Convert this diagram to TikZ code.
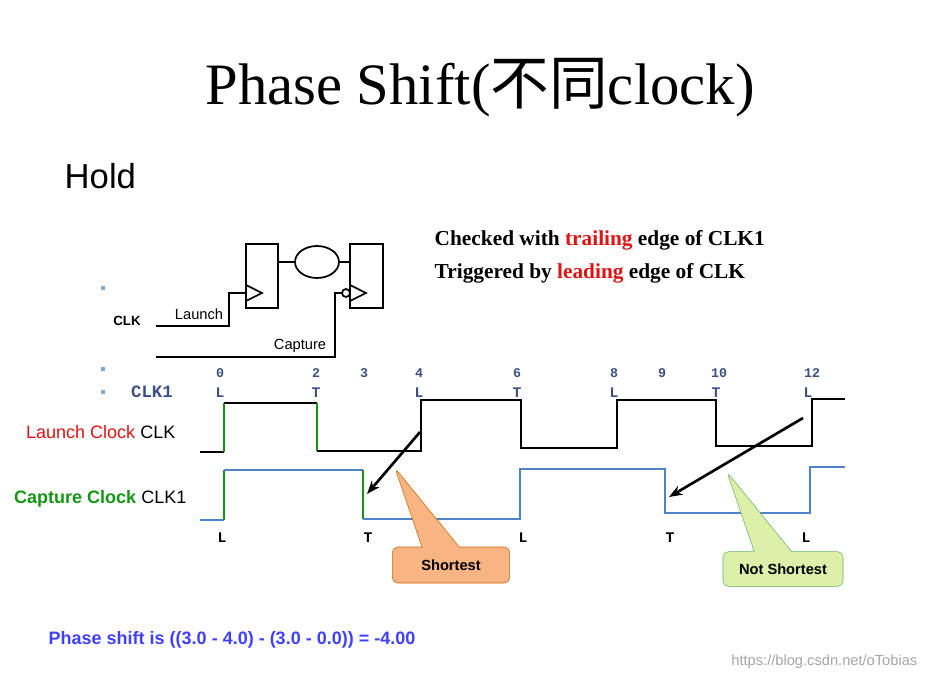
\documentclass[tikz,border=0pt]{standalone}
\usepackage{fontspec}
\setmainfont{Liberation Serif}
\newfontfamily\sansf{Liberation Sans}
\newfontfamily\monof{Liberation Mono}
\newfontfamily\cjk{Noto Sans CJK SC}
\usetikzlibrary{arrows.meta,shapes.callouts}
\definecolor{wblue}{RGB}{80,130,200}
\definecolor{wgreen}{RGB}{20,150,20}
\definecolor{lbl}{RGB}{60,80,130}
\definecolor{myred}{RGB}{220,20,20}
\definecolor{ofill}{RGB}{248,180,130}
\definecolor{gfill}{RGB}{220,240,170}
\begin{document}
\begin{tikzpicture}[x=0.75pt,y=-0.75pt,
  num/.style={font=\monof\bfseries\fontsize{10}{11}\selectfont,text=lbl},
  lt/.style={font=\monof\bfseries\fontsize{11}{12}\selectfont},
  bul/.style={fill=wblue!70,minimum size=3pt,inner sep=0pt},
  arr/.style={-{Stealth[length=10pt]},line width=2pt},
  wire/.style={line width=1.3pt}]
\useasboundingbox[fill=white] (0,0) rectangle (929,679);
\node[font=\fontsize{44}{48}\selectfont] (title) at (480,88) {Phase Shift({\cjk 不同}clock)};
\node[font=\sansf\fontsize{26}{30}\selectfont,anchor=west] (hold) at (60,176) {Hold};
\node[font=\bfseries\fontsize{16}{19}\selectfont,anchor=west] (t1) at (430,240) {Checked with \textcolor{myred}{trailing} edge of CLK1};
\node[font=\bfseries\fontsize{16}{19}\selectfont,anchor=west] (t2) at (430,273) {Triggered by \textcolor{myred}{leading} edge of CLK};
% bullets
\node[bul] (b1) at (103,288) {};
\node[bul] (b2) at (103,369) {};
\node[bul] (b3) at (103,392) {};
% circuit
\draw[line width=1.3pt] (246,244) rectangle (278,308);
\draw[line width=1.3pt] (350,244) rectangle (383,308);
\draw[line width=1.3pt] (246,285) -- (262,293) -- (246,301);
\draw[line width=1.3pt] (350,285) -- (366,293) -- (350,301);
\draw[line width=1.3pt] (317,262) ellipse (22 and 16);
\draw[line width=1.3pt] (346,293) circle (4);
\draw[wire] (278,262) -- (295,262) (339,262) -- (350,262);
\draw[wire] (156,326) -- (229,326) -- (229,293) -- (246,293);
\draw[wire] (156,357) -- (335,357) -- (335,293) -- (342,293);
\node[font=\sansf\bfseries\fontsize{10}{11}\selectfont] (clkl) at (127,321) {CLK};
\node[font=\sansf\fontsize{11}{12}\selectfont] (la) at (199,314) {Launch};
\node[font=\sansf\fontsize{11}{12}\selectfont] (ca) at (300,346) {Capture};
\node[font=\monof\bfseries\fontsize{13}{14}\selectfont,text=lbl] (clk1l) at (152,392) {CLK1};
% numbers
\foreach \x/\t in {220/0,316/2,364/3,419/4,517/6,614/8,662/9,719/10,812/12}
  \node[num] (n\t) at (\x,373) {\t};
\foreach \x/\t [count=\i] in {220/L,316/T,419/L,517/T,614/L,716/T,808/L}
  \node[lt,text=lbl] (u\i) at (\x,393) {\t};
\foreach \x/\t [count=\i] in {222/L,368/T,523/L,670/T,806/L}
  \node[lt] (d\i) at (\x,538) {\t};
% labels
\node[font=\sansf\fontsize{13.5}{15}\selectfont,anchor=east] (lc) at (180,432) {\textcolor{myred}{Launch Clock} CLK};
\node[font=\sansf\fontsize{13.5}{15}\selectfont,anchor=east] (cc) at (191,499) {\textcolor{wgreen}{\bfseries Capture Clock} CLK1};
% waveforms
\draw[line width=1.5pt] (200,452) -- (224,452);
\draw[line width=1.5pt,wgreen] (224,452) -- (224,403);
\draw[line width=1.5pt] (224,403) -- (317,403);
\draw[line width=1.5pt,wgreen] (317,403) -- (317,451);
\draw[line width=1.5pt] (317,451) -- (421,451) -- (421,400) -- (521,400) -- (521,448) -- (617,448) -- (617,400) -- (716,400) -- (716,446) -- (812,446) -- (812,399) -- (845,399);
\draw[line width=1.3pt,wblue] (200,520) -- (224,520);
\draw[line width=1.5pt,wgreen] (224,520) -- (224,470);
\draw[line width=1.3pt,wblue] (224,470) -- (363,470);
\draw[line width=1.5pt,wgreen] (363,470) -- (363,519);
\draw[line width=1.3pt,wblue] (363,519) -- (520,519) -- (520,469) -- (665,469) -- (665,513) -- (810,513) -- (810,467) -- (845,467);
% arrows
\coordinate (a1s) at (420,432); \coordinate (a1e) at (367,494);
\coordinate (a2s) at (803,418); \coordinate (a2e) at (669,497);
\draw[arr] (a1s) -- (a1e);
\draw[arr] (a2s) -- (a2e);
% callouts
\node[rectangle callout,rounded corners=4pt,fill=ofill,draw=orange!80!black,
  minimum width=88pt,minimum height=27pt,font=\sansf\bfseries\fontsize{11}{12}\selectfont,
  callout pointer width=28pt,callout absolute pointer={(395,468)}] (sh) at (451,565) {Shortest};
\node[rectangle callout,rounded corners=4pt,fill=gfill,draw=green!50!black!60,
  minimum width=90pt,minimum height=26pt,font=\sansf\bfseries\fontsize{11}{12}\selectfont,
  callout pointer width=28pt,callout absolute pointer={(727,472)}] (ns) at (783,569) {Not Shortest};
\node[font=\sansf\bfseries\fontsize{13.5}{15}\selectfont,text=blue!75!white,anchor=west] (ps) at (44,640) {Phase shift is ((3.0 - 4.0) - (3.0 - 0.0)) = -4.00};
\node[font=\sansf\fontsize{11}{12}\selectfont,text=gray!70,anchor=east] (wm) at (922,662) {https://blog.csdn.net/oTobias};
\end{tikzpicture}
\end{document}
